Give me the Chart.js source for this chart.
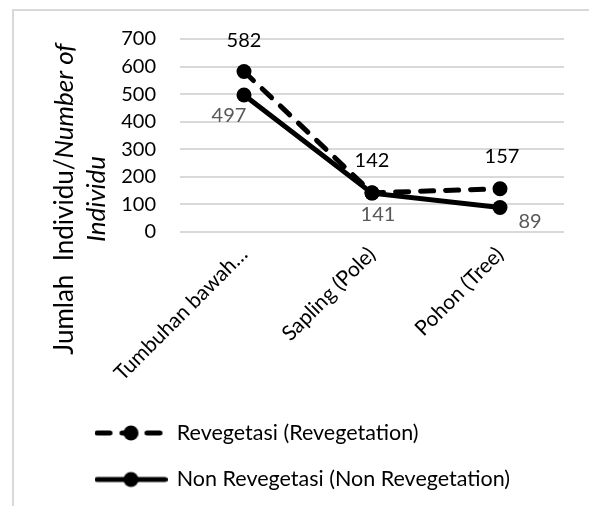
<!DOCTYPE html>
<html><head><meta charset="utf-8">
<script src="https://cdn.jsdelivr.net/npm/chart.js@4.4.0/dist/chart.umd.min.js"></script>
<style>html,body{margin:0;padding:0;background:#fff;}#wrap{position:relative;width:589px;height:506px;}</style>
</head><body><div id="wrap"><canvas id="c" width="589" height="506"></canvas></div>
<script>
// ---- data ----
const categories = ['Tumbuhan bawah\u2026', 'Sapling (Pole)', 'Pohon (Tree)'];
const revegetasi = [582, 142, 157];
const nonRevegetasi = [497, 141, 89];
const seriesNames = ['Revegetasi (Revegetation)', 'Non Revegetasi (Non Revegetation)'];
const yTickValues = [0, 100, 200, 300, 400, 500, 600, 700];
const titleLine1 = ['Jumlah  Individu/', 'Number of'];
const titleLine2 = 'Individu';

// ---- styles ----
const FONT = 'Lato';
const labelStyles = [
  { color: '#000000', offsets: [[0, -31], [0, -32], [2, -32]] },
  { color: '#595959', offsets: [[-15, 21], [6, 21], [30, 14]] }
];

function legendImage(dashed) {
  const c = document.createElement('canvas');
  c.width = 73; c.height = 20;
  const g = c.getContext('2d');
  g.strokeStyle = '#000'; g.lineWidth = 5; g.lineCap = 'round';
  if (dashed) g.setLineDash([13, 12]);
  g.beginPath(); g.moveTo(2.5, 10); g.lineTo(70.5, 10); g.stroke();
  g.setLineDash([]);
  g.fillStyle = '#000'; g.beginPath(); g.arc(36.5, 10, 7.5, 0, Math.PI * 2); g.fill();
  return c;
}

const customPlugin = {
  id: 'custom',
  beforeDraw(chart) {
    const ctx = chart.ctx;
    ctx.save();
    ctx.strokeStyle = '#d9d9d9'; ctx.lineWidth = 2;
    ctx.beginPath(); ctx.moveTo(13, 506); ctx.lineTo(13, 10); ctx.lineTo(589, 10); ctx.stroke();
    ctx.restore();
  },
  afterLayout(chart) {
    const lg = chart.legend;
    if (lg) {
      const p = lg.options.labels.padding;
      const fs = lg.options.labels.font.size;
      lg.left = 96 - p;
      lg.top = 433 - p - fs / 2;
    }
  },
  afterDatasetsDraw(chart) {
    const ctx = chart.ctx;
    ctx.save();
    ctx.font = '20px ' + FONT;
    ctx.textAlign = 'center'; ctx.textBaseline = 'middle';
    chart.data.datasets.forEach((ds, di) => {
      const meta = chart.getDatasetMeta(di);
      meta.data.forEach((pt, i) => {
        const o = labelStyles[di].offsets[i];
        ctx.fillStyle = labelStyles[di].color;
        ctx.fillText(String(ds.data[i]), pt.x + o[0], pt.y + o[1]);
      });
    });
    ctx.restore();
  },
  afterDraw(chart) {
    const ctx = chart.ctx;
    const size = 26;
    const fN = size + 'px ' + FONT, fI = 'italic ' + size + 'px ' + FONT;
    const cy = 199;
    ctx.save();
    ctx.fillStyle = '#000'; ctx.textBaseline = 'alphabetic'; ctx.textAlign = 'left';
    ctx.font = fN; const w1 = ctx.measureText(titleLine1[0]).width;
    ctx.font = fI; const w2 = ctx.measureText(titleLine1[1]).width;
    ctx.save();
    ctx.translate(73, cy); ctx.rotate(-Math.PI / 2);
    ctx.font = fN; ctx.fillText(titleLine1[0], -(w1 + w2) / 2, 0);
    ctx.font = fI; ctx.fillText(titleLine1[1], -(w1 + w2) / 2 + w1, 0);
    ctx.restore();
    ctx.save();
    ctx.translate(105, cy); ctx.rotate(-Math.PI / 2);
    ctx.font = fI; const w3 = ctx.measureText(titleLine2).width;
    ctx.fillText(titleLine2, -w3 / 2, 0);
    ctx.restore();
    ctx.restore();
  }
};

function draw() {
  Chart.defaults.font.family = FONT;
  Chart.defaults.color = '#000';
  const imgs = [legendImage(true), legendImage(false)];
  new Chart(document.getElementById('c'), {
    type: 'line',
    data: {
      labels: categories,
      datasets: [
        { label: seriesNames[0], data: revegetasi, borderColor: '#000', backgroundColor: '#000',
          borderWidth: 5, borderDash: [13, 12], borderCapStyle: 'round', tension: 0,
          pointRadius: 7.5, pointBackgroundColor: '#000', pointBorderWidth: 0, pointStyle: 'circle' },
        { label: seriesNames[1], data: nonRevegetasi, borderColor: '#000', backgroundColor: '#000',
          borderWidth: 5, borderCapStyle: 'round', tension: 0,
          pointRadius: 7.5, pointBackgroundColor: '#000', pointBorderWidth: 0, pointStyle: 'circle' }
      ]
    },
    options: {
      responsive: false, animation: false,
      layout: { padding: { top: 39, right: 25, bottom: 0, left: 0 } },
      plugins: {
        tooltip: { enabled: false },
        title: { display: false },
        legend: {
          position: 'bottom', align: 'start',
          labels: {
            usePointStyle: true, pointStyleWidth: 70, padding: 25,
            font: { size: 21.5, family: FONT }, color: '#000',
            generateLabels(chart) {
              return chart.data.datasets.map((ds, i) => ({
                text: ds.label, pointStyle: imgs[i], datasetIndex: i, hidden: false,
                fontColor: '#000', fillStyle: '#000', strokeStyle: '#000', lineWidth: 0
              }));
            }
          }
        }
      },
      scales: {
        x: {
          offset: true,
          grid: { display: false, offset: true }, border: { display: false },
          ticks: { maxRotation: 45, minRotation: 45, autoSkip: false, padding: 2,
                   font: { size: 21, family: FONT }, color: '#000' },
          afterFit(s) { s.height = s.chart.height - 232 - (s.chart.legend ? s.chart.legend.height : 0); }
        },
        y: {
          min: 0, max: 700,
          afterBuildTicks(s) { s.ticks = yTickValues.map(v => ({ value: v })); },
          grid: { color: '#d9d9d9', lineWidth: 2, drawTicks: false }, border: { display: false },
          ticks: { padding: 24, font: { size: 20, family: FONT }, color: '#000' },
          afterFit(s) { s.width = 180; }
        }
      }
    },
    plugins: [customPlugin]
  });
}
Promise.all([document.fonts.load('20px Lato'), document.fonts.load('italic 26px Lato')]).then(draw, draw);
</script></body></html>
